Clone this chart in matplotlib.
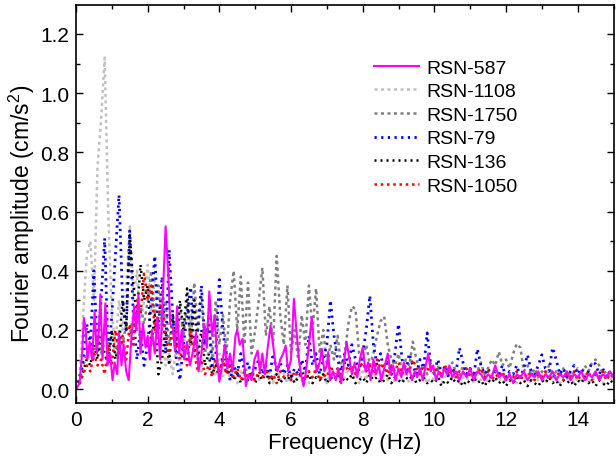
import numpy as np
import matplotlib
matplotlib.use("Agg")
import matplotlib.pyplot as plt
from matplotlib.ticker import MultipleLocator

plt.rcParams['font.family'] = ['Liberation Sans', 'DejaVu Sans']
plt.rcParams['mathtext.fontset'] = 'custom'
plt.rcParams['mathtext.rm'] = 'Liberation Sans'

# ---------------- data ----------------
labels = ["RSN-587", "RSN-1108", "RSN-1750", "RSN-79", "RSN-136", "RSN-1050"]

# RSN-587 (solid magenta) : frequency / amplitude pairs
f587 = [0.0, 0.1, 0.17, 0.22, 0.27, 0.32, 0.38, 0.45, 0.52, 0.58, 0.63, 0.68, 0.74, 0.82, 0.88,
        0.95, 1.02, 1.08, 1.15, 1.2, 1.27, 1.33, 1.4, 1.47, 1.55, 1.62, 1.68, 1.74, 1.8, 1.87,
        1.94, 2.0, 2.06, 2.12, 2.2, 2.27, 2.35, 2.42, 2.5, 2.57, 2.63, 2.7, 2.76, 2.82, 2.88,
        2.95, 3.02, 3.1, 3.18, 3.25, 3.35, 3.42, 3.5, 3.58, 3.65, 3.72, 3.8, 3.87, 3.94, 4.0,
        4.08, 4.15, 4.22, 4.3, 4.37, 4.45, 4.5, 4.57, 4.65, 4.74, 4.82, 4.9, 4.98, 5.07, 5.13,
        5.2, 5.27, 5.35, 5.43, 5.5, 5.57, 5.62, 5.7, 5.78, 5.85, 5.92, 6.0, 6.08, 6.15, 6.22,
        6.28, 6.35, 6.42, 6.5, 6.58, 6.65, 6.72, 6.8, 6.86, 6.93, 7.0, 7.04, 7.09, 7.17, 7.25,
        7.32, 7.4, 7.48, 7.55, 7.62, 7.7, 7.78, 7.85, 7.92, 8.0, 8.08, 8.15, 8.22, 8.3, 8.37,
        8.45, 8.52, 8.6, 8.7, 8.78, 8.85, 8.92, 9.0, 9.08, 9.15, 9.22, 9.3, 9.38, 9.45, 9.52,
        9.6, 9.68, 9.76, 9.83, 9.9, 9.97, 10.05, 10.12, 10.2, 10.28, 10.35, 10.42, 10.5, 10.6,
        10.7, 10.8, 10.9, 11.0, 11.1, 11.2, 11.3, 11.4, 11.5, 11.6, 11.7, 11.8, 11.9, 12.0,
        12.1, 12.2, 12.3, 12.4, 12.5, 12.6, 12.7, 12.8, 12.9, 13.0, 13.1, 13.2, 13.3, 13.4,
        13.5, 13.6, 13.7, 13.8, 13.9, 14.0, 14.1, 14.2, 14.3, 14.4, 14.5, 14.6, 14.7, 14.8,
        14.9, 15.0]
a587 = [0.0, 0.02, 0.12, 0.24, 0.2, 0.1, 0.16, 0.1, 0.26, 0.12, 0.18, 0.32, 0.1, 0.29, 0.08,
        0.12, 0.03, 0.09, 0.05, 0.19, 0.08, 0.15, 0.06, 0.03, 0.18, 0.28, 0.2, 0.32, 0.12, 0.22,
        0.14, 0.18, 0.1, 0.2, 0.12, 0.24, 0.1, 0.3, 0.55, 0.4, 0.22, 0.21, 0.13, 0.28, 0.12,
        0.2, 0.1, 0.16, 0.08, 0.12, 0.19, 0.06, 0.12, 0.22, 0.14, 0.33, 0.18, 0.25, 0.1, 0.025,
        0.08, 0.15, 0.07, 0.12, 0.06, 0.18, 0.2, 0.15, 0.17, 0.01, 0.05, 0.03, 0.1, 0.13, 0.06,
        0.12, 0.05, 0.14, 0.215, 0.15, 0.08, 0.06, 0.1, 0.12, 0.147, 0.06, 0.1, 0.305, 0.2, 0.1,
        0.05, 0.01, 0.06, 0.15, 0.244, 0.12, 0.06, 0.09, 0.136, 0.06, 0.08, 0.125, 0.03, 0.06, 0.03,
        0.07, 0.02, 0.09, 0.16, 0.11, 0.05, 0.09, 0.04, 0.1, 0.14, 0.06, 0.09, 0.03, 0.1, 0.05,
        0.08, 0.03, 0.07, 0.12, 0.05, 0.08, 0.03, 0.07, 0.04, 0.09, 0.05, 0.07, 0.03, 0.06, 0.04,
        0.07, 0.03, 0.08, 0.12, 0.06, 0.08, 0.03, 0.06, 0.04, 0.07, 0.05, 0.08, 0.04, 0.06,
        0.03, 0.06, 0.04, 0.07, 0.03, 0.06, 0.05, 0.03, 0.05, 0.04, 0.08, 0.04, 0.05, 0.03,
        0.05, 0.02, 0.05, 0.04, 0.06, 0.03, 0.05, 0.04, 0.06, 0.03, 0.05, 0.04, 0.06, 0.03,
        0.05, 0.04, 0.06, 0.03, 0.05, 0.04, 0.06, 0.03, 0.05, 0.04, 0.06, 0.03, 0.05, 0.04,
        0.06, 0.04]

# dotted series: amplitude sampled every 0.1 Hz from 0 to 15 Hz
freq = np.arange(151) * 0.1

a1108 = [0.00, 0.05, 0.25, 0.45, 0.50, 0.30, 0.75, 0.91, 1.12, 0.60,
         0.25, 0.15, 0.30, 0.20, 0.35, 0.55, 0.30, 0.40, 0.20, 0.30,
         0.42, 0.25, 0.38, 0.15, 0.20, 0.08, 0.12, 0.05, 0.15, 0.08,
         0.20, 0.10, 0.25, 0.12, 0.18, 0.06, 0.22, 0.10, 0.15, 0.05,
         0.12, 0.04, 0.10, 0.03, 0.08, 0.02, 0.06, 0.03, 0.09, 0.04,
         0.07, 0.03, 0.10, 0.04, 0.06, 0.02, 0.08, 0.03, 0.05, 0.02,
         0.06, 0.02, 0.05, 0.03, 0.07, 0.02, 0.04, 0.06, 0.03, 0.05,
         0.02, 0.06, 0.03, 0.05, 0.02, 0.04, 0.07, 0.03, 0.05, 0.02,
         0.06, 0.03, 0.08, 0.04, 0.06, 0.02, 0.05, 0.03, 0.07, 0.02,
         0.05, 0.03, 0.06, 0.02, 0.04, 0.06, 0.03, 0.05, 0.02, 0.04,
         0.03, 0.05, 0.02, 0.04, 0.06, 0.03, 0.05, 0.02, 0.04, 0.03,
         0.05, 0.02, 0.04, 0.03, 0.06, 0.02, 0.05, 0.03, 0.04, 0.02,
         0.04, 0.03, 0.05, 0.02, 0.04, 0.03, 0.05, 0.02, 0.04, 0.03,
         0.05, 0.02, 0.04, 0.03, 0.05, 0.02, 0.04, 0.03, 0.05, 0.02,
         0.04, 0.03, 0.05, 0.02, 0.04, 0.03, 0.05, 0.02, 0.04, 0.03, 0.04]

a1750 = [0.00, 0.03, 0.08, 0.12, 0.15, 0.10, 0.18, 0.12, 0.20, 0.15,
         0.18, 0.12, 0.20, 0.15, 0.22, 0.18, 0.25, 0.20, 0.28, 0.22,
         0.30, 0.40, 0.25, 0.35, 0.20, 0.30, 0.15, 0.25, 0.12, 0.28,
         0.18, 0.30, 0.15, 0.36, 0.20, 0.32, 0.12, 0.25, 0.10, 0.30,
         0.15, 0.25, 0.12, 0.30, 0.40, 0.20, 0.38, 0.15, 0.36, 0.12,
         0.20, 0.30, 0.41, 0.18, 0.28, 0.15, 0.45, 0.25, 0.15, 0.35,
         0.12, 0.20, 0.10, 0.25, 0.15, 0.35, 0.20, 0.34, 0.12, 0.20,
         0.08, 0.15, 0.10, 0.18, 0.08, 0.12, 0.22, 0.28, 0.27, 0.12,
         0.10, 0.15, 0.08, 0.12, 0.18, 0.23, 0.245, 0.15, 0.10, 0.08,
         0.12, 0.06, 0.10, 0.08, 0.16, 0.10, 0.06, 0.08, 0.05, 0.07,
         0.05, 0.08, 0.04, 0.07, 0.05, 0.09, 0.06, 0.04, 0.08, 0.05,
         0.07, 0.04, 0.06, 0.09, 0.05, 0.07, 0.10, 0.08, 0.126, 0.08,
         0.10, 0.07, 0.12, 0.153, 0.14, 0.06, 0.08, 0.05, 0.07, 0.04,
         0.06, 0.05, 0.08, 0.04, 0.06, 0.05, 0.07, 0.04, 0.06, 0.05,
         0.07, 0.05, 0.08, 0.06, 0.09, 0.10, 0.08, 0.05, 0.06, 0.04, 0.05]

a79 = [0.00, 0.04, 0.10, 0.22, 0.15, 0.40, 0.12, 0.30, 0.51, 0.10,
       0.25, 0.45, 0.656, 0.30, 0.20, 0.535, 0.25, 0.10, 0.20, 0.08,
       0.15, 0.30, 0.45, 0.20, 0.38, 0.12, 0.47, 0.25, 0.10, 0.03,
       0.15, 0.25, 0.345, 0.12, 0.20, 0.35, 0.15, 0.22, 0.08, 0.12,
       0.37, 0.20, 0.10, 0.03, 0.08, 0.05, 0.12, 0.06, 0.09, 0.04,
       0.07, 0.10, 0.05, 0.08, 0.04, 0.12, 0.06, 0.09, 0.05, 0.08,
       0.04, 0.07, 0.05, 0.10, 0.06, 0.18, 0.08, 0.12, 0.05, 0.10,
       0.15, 0.30, 0.18, 0.10, 0.06, 0.12, 0.08, 0.15, 0.10, 0.06,
       0.12, 0.20, 0.316, 0.15, 0.08, 0.12, 0.06, 0.10, 0.05, 0.12,
       0.22, 0.10, 0.06, 0.12, 0.08, 0.05, 0.10, 0.07, 0.19, 0.08,
       0.06, 0.10, 0.05, 0.08, 0.04, 0.07, 0.05, 0.14, 0.09, 0.05,
       0.07, 0.04, 0.136, 0.08, 0.05, 0.07, 0.04, 0.06, 0.05, 0.08,
       0.04, 0.06, 0.05, 0.08, 0.04, 0.07, 0.116, 0.06, 0.05, 0.08,
       0.116, 0.07, 0.06, 0.14, 0.10, 0.05, 0.07, 0.04, 0.06, 0.08,
       0.05, 0.07, 0.04, 0.06, 0.09, 0.085, 0.05, 0.07, 0.04, 0.06, 0.05]

a136 = [0.00, 0.02, 0.06, 0.10, 0.08, 0.15, 0.10, 0.18, 0.12, 0.08,
        0.20, 0.10, 0.15, 0.30, 0.20, 0.52, 0.35, 0.25, 0.42, 0.30,
        0.35, 0.15, 0.25, 0.05, 0.10, 0.20, 0.08, 0.25, 0.15, 0.30,
        0.20, 0.34, 0.15, 0.30, 0.10, 0.20, 0.08, 0.12, 0.05, 0.08,
        0.04, 0.11, 0.05, 0.08, 0.03, 0.06, 0.02, 0.05, 0.03, 0.06,
        0.02, 0.05, 0.03, 0.06, 0.02, 0.04, 0.05, 0.02, 0.04, 0.03,
        0.05, 0.02, 0.04, 0.06, 0.03, 0.05, 0.02, 0.04, 0.03, 0.05,
        0.02, 0.04, 0.03, 0.05, 0.02, 0.04, 0.03, 0.05, 0.02, 0.03,
        0.04, 0.02, 0.05, 0.03, 0.04, 0.02, 0.03, 0.05, 0.02, 0.04,
        0.03, 0.02, 0.04, 0.03, 0.05, 0.02, 0.03, 0.04, 0.02, 0.03,
        0.02, 0.04, 0.01, 0.03, 0.02, 0.04, 0.02, 0.03, 0.01, 0.03,
        0.02, 0.04, 0.02, 0.03, 0.01, 0.03, 0.02, 0.04, 0.02, 0.03,
        0.01, 0.03, 0.02, 0.04, 0.02, 0.03, 0.01, 0.03, 0.02, 0.01,
        0.03, 0.02, 0.04, 0.02, 0.03, 0.01, 0.03, 0.02, 0.03, 0.01,
        0.03, 0.02, 0.04, 0.02, 0.03, 0.01, 0.03, 0.02, 0.01, 0.03, 0.02]

a1050 = [0.00, 0.02, 0.05, 0.08, 0.06, 0.12, 0.08, 0.10, 0.05, 0.15,
         0.08, 0.20, 0.12, 0.18, 0.10, 0.22, 0.15, 0.30, 0.25, 0.39,
         0.30, 0.35, 0.20, 0.25, 0.30, 0.18, 0.12, 0.20, 0.15, 0.10,
         0.15, 0.08, 0.20, 0.12, 0.06, 0.10, 0.05, 0.08, 0.04, 0.10,
         0.06, 0.10, 0.05, 0.08, 0.04, 0.07, 0.03, 0.06, 0.04, 0.05,
         0.03, 0.06, 0.04, 0.07, 0.03, 0.05, 0.02, 0.06, 0.04, 0.05,
         0.03, 0.06, 0.04, 0.05, 0.03, 0.06, 0.04, 0.07, 0.03, 0.05,
         0.04, 0.08, 0.05, 0.07, 0.04, 0.09, 0.06, 0.08, 0.05, 0.07,
         0.09, 0.06, 0.08, 0.05, 0.10, 0.07, 0.09, 0.05, 0.08, 0.06,
         0.09, 0.05, 0.08, 0.06, 0.10, 0.07, 0.05, 0.08, 0.06, 0.09,
         0.05, 0.07, 0.04, 0.08, 0.05, 0.07, 0.04, 0.06, 0.05, 0.07,
         0.04, 0.06, 0.05, 0.07, 0.04, 0.06, 0.03, 0.05, 0.04, 0.06,
         0.03, 0.05, 0.04, 0.06, 0.03, 0.05, 0.04, 0.06, 0.03, 0.05,
         0.04, 0.06, 0.03, 0.05, 0.04, 0.06, 0.03, 0.05, 0.04, 0.06,
         0.03, 0.05, 0.04, 0.06, 0.03, 0.05, 0.04, 0.06, 0.03, 0.05, 0.04]

# ---------------- figure ----------------
fig = plt.figure(figsize=(6.16, 4.6), dpi=100)
ax = fig.add_axes([76/616, 56/460, (613.5-76)/616, (454-56)/460])

h1108, = ax.plot(freq, a1108, color='#c0c0c0', lw=1.8, ls=(0, (1.2, 1.4)), label=labels[1])
h1750, = ax.plot(freq, a1750, color='#808080', lw=1.8, ls=(0, (1.2, 1.4)), label=labels[2])
h79, = ax.plot(freq, a79, color='#0000ff', lw=2.0, ls=(0, (0.8, 1.6)), label=labels[3])
h136, = ax.plot(freq, a136, color='#000000', lw=1.8, ls=(0, (0.8, 1.6)), label=labels[4])
h1050, = ax.plot(freq, a1050, color='#ff0000', lw=1.8, ls=(0, (1.0, 1.5)), label=labels[5])
h587, = ax.plot(f587, a587, color='#ff00ff', lw=1.5, ls='-', label=labels[0])

ax.set_xlim(0, 15)
ax.set_ylim(-0.047, 1.298)
ax.xaxis.set_major_locator(MultipleLocator(2))
ax.xaxis.set_minor_locator(MultipleLocator(1))
ax.yaxis.set_major_locator(MultipleLocator(0.2))
ax.yaxis.set_minor_locator(MultipleLocator(0.1))
ax.yaxis.set_major_formatter(matplotlib.ticker.FormatStrFormatter('%.1f'))
ax.tick_params(which='both', direction='in', top=True, right=True, labelsize=15, width=1.0)
ax.tick_params(which='major', length=5, pad=5)
ax.tick_params(which='minor', length=3)
for s in ax.spines.values():
    s.set_linewidth(1.2)

ax.set_xlabel('Frequency (Hz)', fontsize=16, labelpad=2)
ax.set_ylabel('Fourier amplitude (cm/s$^2$)', fontsize=16.5)
ax.yaxis.set_label_coords(-0.072, 0.477)

leg = ax.legend(handles=[h587, h1108, h1750, h79, h136, h1050],
                loc='upper left', bbox_to_anchor=(370/616, 404/460), bbox_transform=fig.transFigure,
                frameon=False, fontsize=14, handlelength=2.3, handletextpad=0.4,
                labelspacing=0.31, borderaxespad=0, borderpad=0.2)

fig.savefig('out.png', dpi=100)
